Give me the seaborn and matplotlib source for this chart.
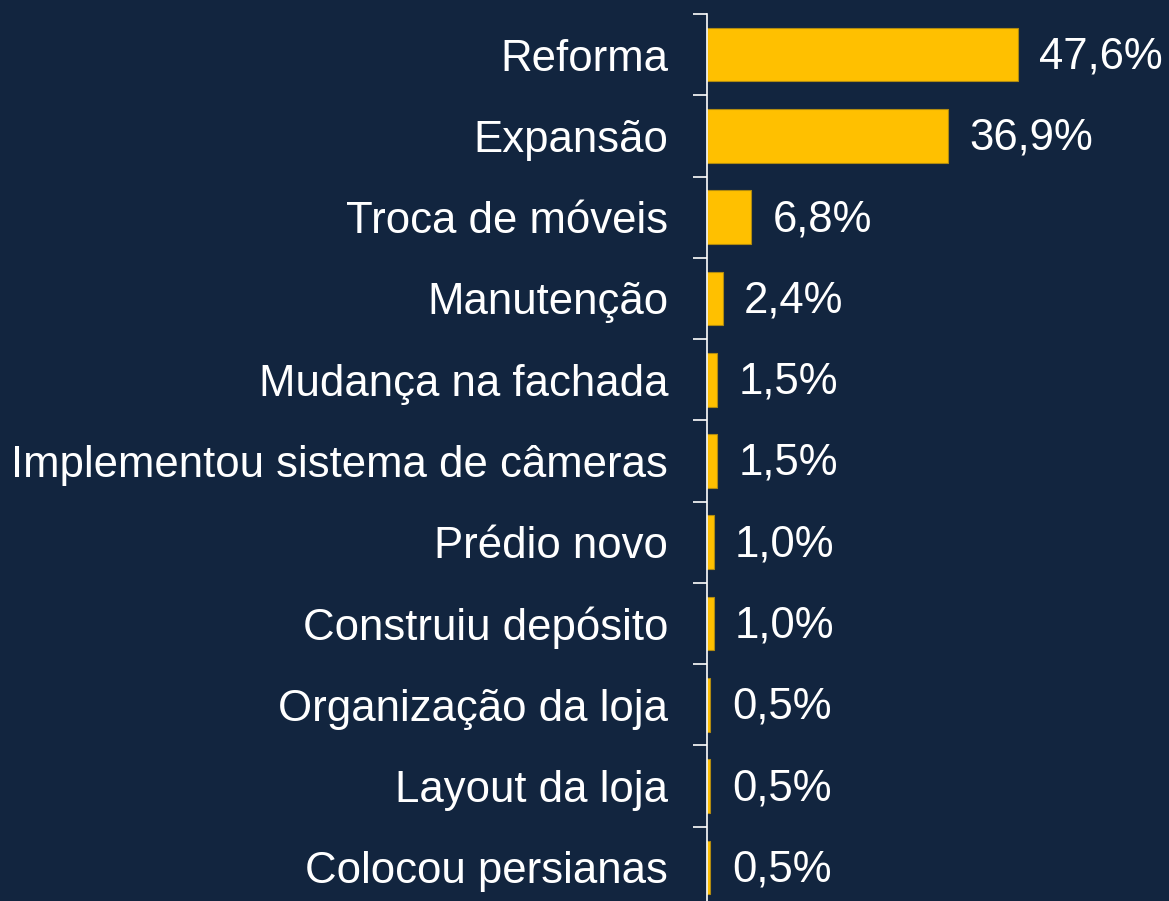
import matplotlib.pyplot as plt
import numpy as np
import pandas as pd
import seaborn as sns

categories = [
    "Reforma",
    "Expansão",
    "Troca de móveis",
    "Manutenção",
    "Mudança na fachada",
    "Implementou sistema de câmeras",
    "Prédio novo",
    "Construiu depósito",
    "Organização da loja",
    "Layout da loja",
    "Colocou persianas",
]
values = [47.6, 36.9, 6.8, 2.4, 1.5, 1.5, 1.0, 1.0, 0.5, 0.5, 0.5]

BG = "#12253f"
BAR = "#ffc000"

df = pd.DataFrame({"categoria": categories, "valor": values})

sns.set_style("white")
plt.rcParams["font.family"] = ["Liberation Sans", "DejaVu Sans"]

fig = plt.figure(figsize=(11.69, 9.01), dpi=100, facecolor=BG)
ax = fig.add_axes([0.6048, -0.0078, 0.391, 0.9923])
ax.set_facecolor(BG)

sns.barplot(data=df, x="valor", y="categoria", orient="h", color=BAR,
            width=0.66, edgecolor="#b08a10", linewidth=0.8, saturation=1, ax=ax)

for i, v in enumerate(values):
    ax.text(v + 3.3, i + 0.03, f"{v:.1f}%".replace(".", ","), va="center",
            ha="left", color="white", fontsize=31.5, clip_on=False)

ax.set_xlim(0, 70)
ax.set_ylim(len(categories) - 0.5, -0.5)
ax.set_xlabel("")
ax.set_ylabel("")
ax.set_xticks([])

for s in ["top", "right", "bottom"]:
    ax.spines[s].set_visible(False)
ax.spines["left"].set_color("white")
ax.spines["left"].set_linewidth(1.2)

ax.tick_params(axis="y", which="major", left=True, length=0, pad=28,
               labelsize=31.5, labelcolor="white")
ax.set_yticks(np.arange(-0.5, len(categories), 1), minor=True)
ax.tick_params(axis="y", which="minor", left=True, length=10, width=1.2,
               color="white", direction="out")

fig.savefig("out.png", dpi=100, facecolor=BG)
